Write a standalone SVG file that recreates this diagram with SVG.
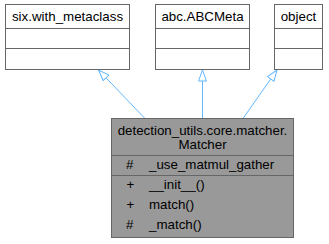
<svg xmlns="http://www.w3.org/2000/svg" width="329" height="244" viewBox="0 0 329 244">
  <style>
    text { font-family: "Liberation Sans", Arial, sans-serif; font-size: 13.33px; fill: #000000; }
    .c { text-anchor: middle; }
    .box { fill: #ffffff; stroke: #666666; stroke-width: 1; }
    .main { fill: #999999; stroke: #666666; stroke-width: 1; }
    .sep { stroke: #666666; stroke-width: 1; }
    .edge { fill: none; stroke: #63b8ff; stroke-width: 1; marker-end: url(#inherit); }
  </style>
  <defs>
    <!-- hollow triangle for generalisation edges -->
    <marker id="inherit" viewBox="0 0 12 10" refX="11.5" refY="5" markerWidth="12" markerHeight="10" markerUnits="userSpaceOnUse" orient="auto">
      <path d="M0.5,1 L11.5,5 L0.5,9 Z" fill="#ffffff" stroke="#63b8ff" stroke-width="1"/>
    </marker>
  </defs>

  <g id="edges">
    <path class="edge" d="M145,118.5 L98.5,70"/>
    <path class="edge" d="M202.5,118.5 L202.5,70"/>
    <path class="edge" d="M243,118.5 L277,70"/>
  </g>

  <g id="six_with_metaclass">
    <rect class="box" x="5.5" y="4.5" width="124" height="65"/>
    <line class="sep" x1="5.5" y1="28.5" x2="129.5" y2="28.5"/>
    <line class="sep" x1="5.5" y1="48.5" x2="129.5" y2="48.5"/>
    <text class="c" x="67.5" y="21">six.with_metaclass</text>
  </g>

  <g id="abc_ABCMeta">
    <rect class="box" x="155.5" y="4.5" width="94" height="65"/>
    <line class="sep" x1="155.5" y1="28.5" x2="249.5" y2="28.5"/>
    <line class="sep" x1="155.5" y1="48.5" x2="249.5" y2="48.5"/>
    <text class="c" x="202.5" y="21">abc.ABCMeta</text>
  </g>

  <g id="object">
    <rect class="box" x="274.5" y="4.5" width="48" height="65"/>
    <line class="sep" x1="274.5" y1="28.5" x2="322.5" y2="28.5"/>
    <line class="sep" x1="274.5" y1="48.5" x2="322.5" y2="48.5"/>
    <text class="c" x="298.5" y="21">object</text>
  </g>

  <g id="Matcher">
    <rect class="main" x="111.5" y="118.5" width="182" height="119"/>
    <text class="c" x="202.5" y="135">detection_utils.core.matcher.</text>
    <text class="c" x="202.5" y="148.5">Matcher</text>
    <line class="sep" x1="111.5" y1="155.5" x2="293.5" y2="155.5"/>
    <text x="126" y="169">#</text>
    <text x="149" y="169">_use_matmul_gather</text>
    <line class="sep" x1="111.5" y1="175.5" x2="293.5" y2="175.5"/>
    <text x="126.5" y="189">+</text>
    <text x="149" y="189">__init__()</text>
    <text x="126.5" y="209">+</text>
    <text x="149" y="209">match()</text>
    <text x="126" y="229">#</text>
    <text x="149" y="229">_match()</text>
  </g>
</svg>
